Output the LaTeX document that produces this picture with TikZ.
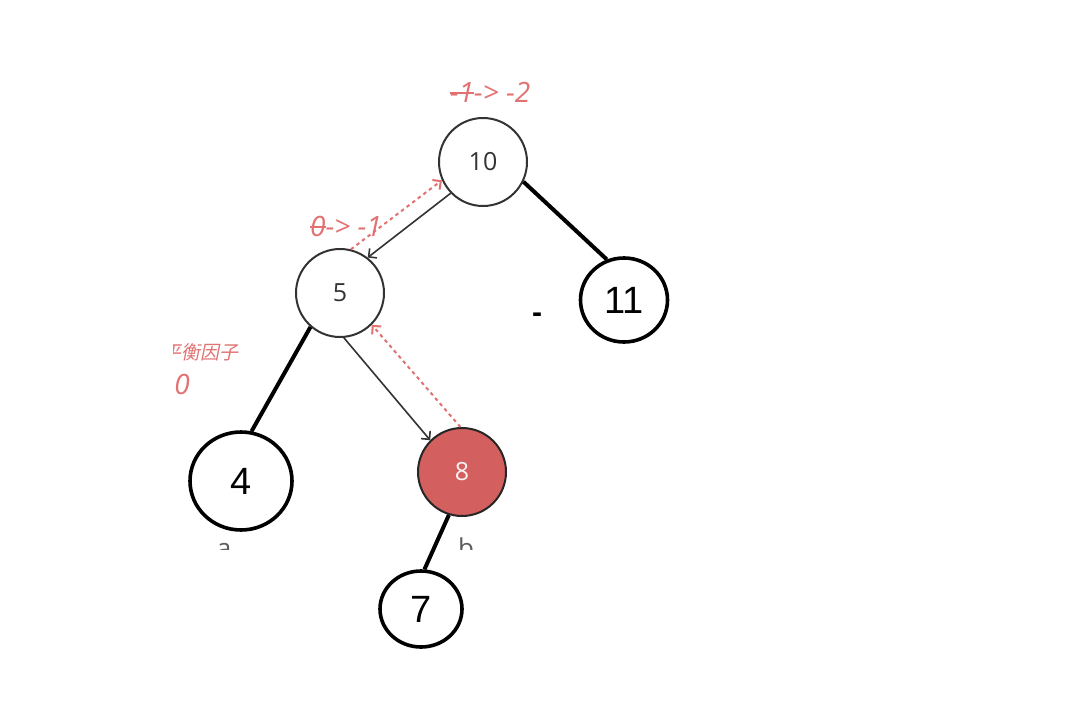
\documentclass[tikz,border=0pt]{standalone}
\usepackage{fontspec}
\setmainfont{Open Sans}
\newfontfamily\arialfont{Liberation Sans}
\newfontfamily\cjk[FakeSlant=0.2]{Noto Sans CJK SC}
\usetikzlibrary{shapes.geometric, arrows.meta}

\newcommand\strk[1]{\setbox0\hbox{#1}\rlap{\rule[0.3em]{\wd0}{1.6pt}}\box0}

\definecolor{redfill}{HTML}{D35F5F}
\definecolor{redink}{HTML}{E27171}
\definecolor{inkgray}{HTML}{333333}

\tikzset{
  softnode/.style={draw=inkgray, circle, line width=2pt, minimum size=88pt,
    inner sep=0pt, text=inkgray, font=\fontsize{25}{27}\selectfont},
  hardnode/.style={draw=black, ellipse, line width=3.6pt, inner sep=0pt,
    text=black, font=\arialfont\fontsize{38}{40}\selectfont},
  hotnode/.style={softnode, draw=black!85, fill=redfill, text=white!92!redfill},
  heavy/.style={line width=4pt, black},
  walk/.style={-{Straight Barb[length=6pt, width=12pt]}, line width=1.6pt, inkgray},
  backwalk/.style={-{Straight Barb[length=6pt, width=12pt]}, line width=2pt, redink, dash pattern=on 3.5pt off 3.5pt},
  redlabel/.style={text=redink, font=\itshape\fontsize{28}{30}\selectfont, inner sep=0pt}
}

\begin{document}
\begin{tikzpicture}[x=1pt, y=-1pt]
    \useasboundingbox[fill=white] (0,0) rectangle (1073,704);

    % tree nodes
    \node[softnode] (n10) at (483,162) {10};
    \node[softnode] (n5) at (340,293) {5};
    \node[hotnode] (n8) at (462,472) {8};
    \node[hardnode, minimum width=87pt, minimum height=84pt] (n11) at (624,300) {11};
    \node[hardnode, minimum width=102pt, minimum height=98pt] (n4) at (241,481) {4};
    \node[hardnode, minimum width=82pt, minimum height=76pt] (n7) at (421,609) {7};

    \foreach \u/\a/\v/\b in {%
        10/334/11/113,
        5/229/4/78,
        8/253/7/85%
        }{
        \draw[heavy] (n\u.\a) -- (n\v.\b);
    }

    % insert path and the way back up
    \draw[walk] (n10.224) -- (n5.52);
    \draw[walk] (n5.275) -- (n8.135);
    \draw[backwalk] (n8.92) -- (n5.315);
    \draw[backwalk] (n5.76) -- (n10.204);

    % balance factors
    \node[redlabel] (bf10) at (490,92) {\strk{-1} -> -2};
    \node[redlabel] (bf5) at (346,226) {\strk{0} -> -1};
    \node[redlabel, font=\itshape\fontsize{28}{30}\selectfont] (bf4) at (182,384) {0};
    \node[font=\arialfont\bfseries\fontsize{30}{32}\selectfont] (gap) at (537,318) {-};

    \begin{scope}
        \clip (173,0) rectangle (1073,549);
        \node[text=redink, font=\cjk\fontsize{19}{21}\selectfont, inner sep=0pt] (bfnote) at (200,352) {平衡因子};
        \node[text=inkgray!80, font=\fontsize{26}{28}\selectfont, anchor=base] (la) at (224,557) {a};
        \node[text=inkgray!80, font=\fontsize{26}{28}\selectfont, anchor=base] (lb) at (466,557) {b};
    \end{scope}
\end{tikzpicture}
\end{document}
